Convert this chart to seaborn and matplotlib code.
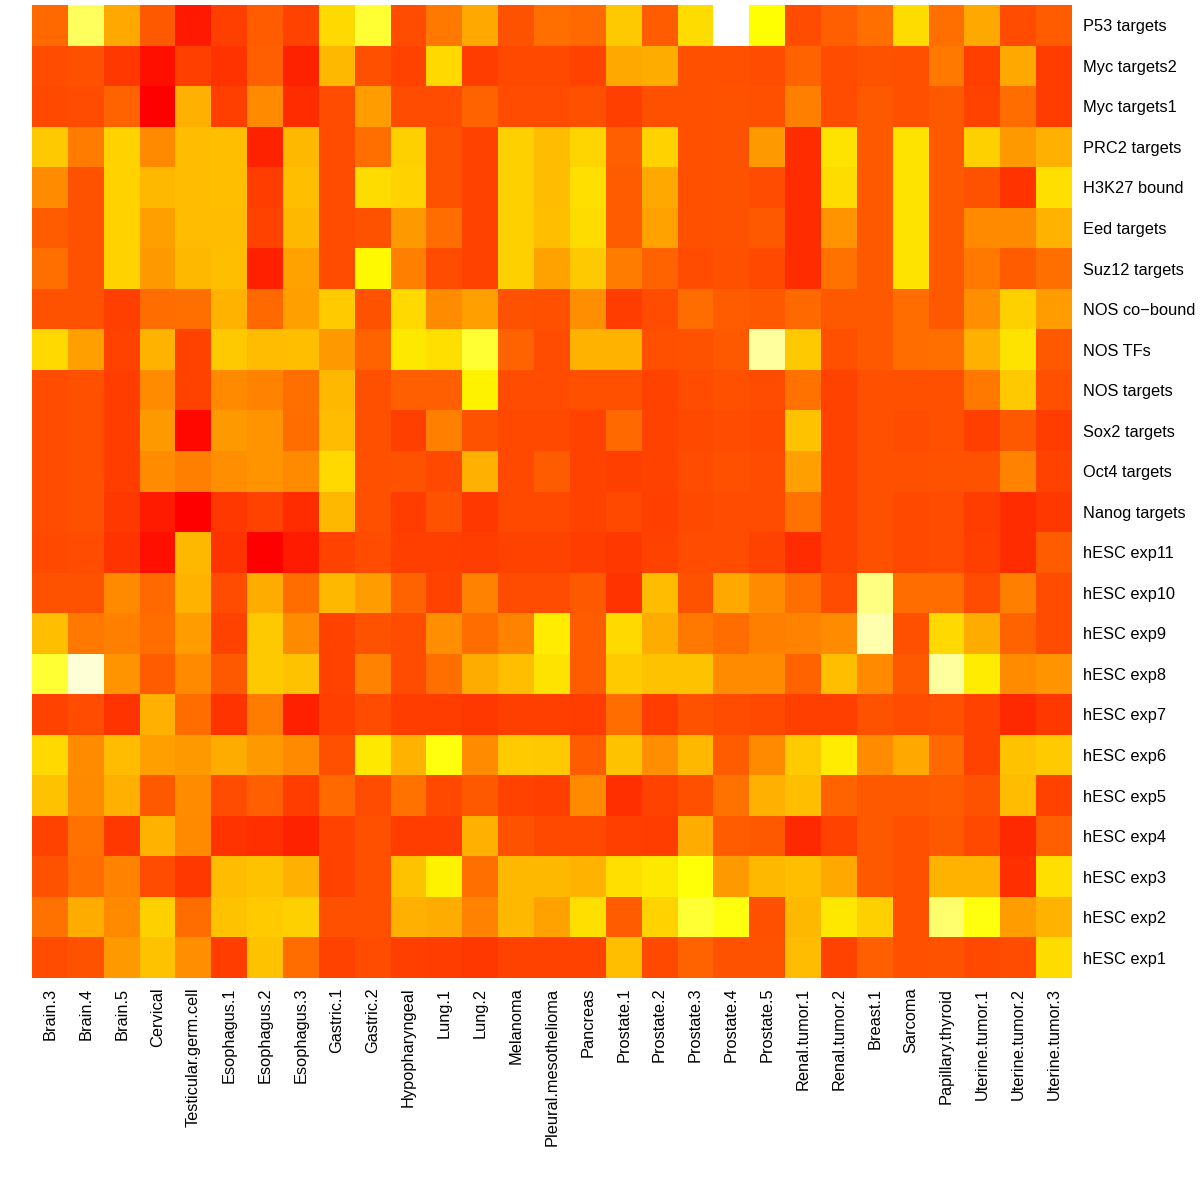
import numpy as np
import pandas as pd
import matplotlib
matplotlib.use("Agg")
import matplotlib.pyplot as plt
from matplotlib.colors import LinearSegmentedColormap
import seaborn as sns

NA = np.nan

samples = ["Brain.3", "Brain.4", "Brain.5", "Cervical", "Testicular.germ.cell",
           "Esophagus.1", "Esophagus.2", "Esophagus.3", "Gastric.1", "Gastric.2",
           "Hypopharyngeal", "Lung.1", "Lung.2", "Melanoma", "Pleural.mesothelioma",
           "Pancreas", "Prostate.1", "Prostate.2", "Prostate.3", "Prostate.4",
           "Prostate.5", "Renal.tumor.1", "Renal.tumor.2", "Breast.1", "Sarcoma",
           "Papillary.thyroid", "Uterine.tumor.1", "Uterine.tumor.2", "Uterine.tumor.3"]

gene_sets = ["P53 targets", "Myc targets2", "Myc targets1", "PRC2 targets",
             "H3K27 bound", "Eed targets", "Suz12 targets", "NOS co\u2212bound",
             "NOS TFs", "NOS targets", "Sox2 targets", "Oct4 targets",
             "Nanog targets", "hESC exp11", "hESC exp10", "hESC exp9", "hESC exp8",
             "hESC exp7", "hESC exp6", "hESC exp5", "hESC exp4", "hESC exp3",
             "hESC exp2", "hESC exp1"]

# enrichment scores, one list per gene set (same order as samples)
p53_targets = [3.3, 9.3, 5.3, 2.8, 0.8, 2.0, 2.9, 2.1, 6.8, 8.7, 2.4, 3.8, 5.3, 2.6, 3.5,
               3.3, 6.3, 2.9, 6.9, NA, 8.0, 2.4, 3.0, 3.5, 6.9, 3.5, 5.3, 2.4, 2.9]
myc_targets2 = [2.4, 2.5, 1.8, 0.5, 2.0, 1.6, 3.0, 1.1, 5.8, 2.5, 2.1, 6.8, 1.9, 2.3, 2.3,
                2.1, 5.3, 5.4, 2.5, 2.5, 2.4, 3.1, 2.4, 2.6, 2.5, 3.8, 2.0, 5.3, 1.9]
myc_targets1 = [2.3, 2.4, 3.1, 0.0, 5.5, 2.0, 4.3, 1.4, 2.4, 4.9, 2.4, 2.4, 3.1, 2.4, 2.4,
                2.5, 2.0, 2.5, 2.5, 2.6, 2.5, 4.0, 2.4, 2.8, 2.5, 2.8, 2.1, 3.4, 1.9]
prc2_targets = [6.3, 3.9, 6.6, 4.3, 5.9, 6.0, 1.1, 5.8, 2.4, 3.5, 6.5, 2.6, 2.1, 6.5, 5.9,
                6.7, 3.0, 6.6, 2.5, 2.6, 4.8, 1.4, 7.1, 2.8, 7.1, 2.8, 6.5, 4.8, 5.5]
h3k27_bound = [4.4, 2.6, 6.6, 5.8, 5.9, 6.0, 1.9, 6.0, 2.4, 6.9, 6.6, 2.6, 2.1, 6.5, 5.9,
               7.0, 2.9, 5.3, 2.5, 2.6, 2.4, 1.4, 6.9, 2.8, 7.1, 2.8, 2.6, 1.6, 7.0]
eed_targets = [2.9, 2.6, 6.6, 5.0, 5.9, 5.9, 2.1, 5.8, 2.4, 2.6, 4.8, 3.4, 2.1, 6.5, 6.0,
               6.9, 2.9, 5.1, 2.5, 2.6, 2.8, 1.4, 4.6, 2.8, 7.1, 2.8, 4.3, 4.3, 5.6]
suz12_targets = [3.5, 2.6, 6.6, 4.8, 5.8, 6.0, 1.0, 5.1, 2.4, 7.8, 4.0, 2.4, 2.1, 6.5, 5.1,
                 6.3, 3.9, 3.1, 2.4, 2.5, 2.3, 1.4, 3.6, 2.8, 7.1, 2.8, 3.8, 2.9, 3.5]
nos_cobound = [2.6, 2.6, 2.0, 3.4, 3.5, 5.6, 3.3, 5.0, 6.4, 2.6, 6.8, 4.4, 5.0, 2.6, 2.5,
               4.5, 1.9, 2.4, 3.4, 2.9, 2.8, 3.3, 2.8, 2.8, 3.4, 2.8, 4.5, 6.5, 4.9]
nos_tfs = [6.8, 5.0, 2.1, 5.6, 2.1, 6.3, 5.9, 6.0, 4.8, 3.1, 7.3, 7.0, 8.7, 3.1, 2.4,
           5.6, 5.6, 2.5, 2.6, 2.8, 10.2, 6.3, 2.5, 2.8, 3.4, 3.5, 5.5, 7.1, 2.8]
nos_targets = [2.4, 2.5, 1.9, 4.4, 2.1, 4.3, 4.1, 3.5, 5.8, 2.5, 3.0, 3.0, 7.6, 2.4, 2.4,
               2.5, 2.5, 2.1, 2.4, 2.5, 2.4, 3.6, 2.1, 2.5, 2.5, 2.5, 3.8, 6.3, 2.5]
sox2_targets = [2.4, 2.5, 1.9, 4.8, 0.3, 4.8, 4.6, 3.4, 5.9, 2.5, 2.0, 4.0, 2.6, 2.3, 2.3,
                2.1, 3.3, 2.1, 2.3, 2.4, 2.3, 6.1, 2.1, 2.5, 2.4, 2.5, 2.0, 2.8, 1.9]
oct4_targets = [2.4, 2.5, 1.9, 4.4, 4.0, 4.5, 4.6, 4.3, 6.8, 2.5, 2.6, 2.3, 5.5, 2.3, 2.9,
                2.1, 2.0, 2.1, 2.4, 2.5, 2.4, 5.0, 2.1, 2.5, 2.5, 2.6, 2.6, 4.1, 2.1]
nanog_targets = [2.4, 2.5, 1.8, 0.9, 0.0, 1.8, 2.1, 1.4, 5.8, 2.5, 1.9, 2.6, 1.8, 2.3, 2.3,
                 2.1, 2.3, 2.0, 2.3, 2.4, 2.4, 3.6, 2.1, 2.5, 2.3, 2.4, 1.9, 1.4, 1.8]
hesc_exp11 = [2.3, 2.4, 1.6, 0.5, 5.8, 1.6, 0.0, 0.9, 2.1, 2.4, 2.0, 2.0, 1.9, 2.1, 2.1,
              1.9, 1.8, 2.1, 2.4, 2.4, 2.1, 1.4, 2.1, 2.5, 2.3, 2.4, 2.0, 1.4, 2.9]
hesc_exp10 = [2.6, 2.6, 4.3, 3.3, 5.6, 2.4, 5.4, 3.4, 5.8, 4.9, 3.1, 2.1, 4.1, 2.4, 2.4,
              2.8, 1.6, 5.9, 2.6, 5.3, 4.4, 3.5, 2.4, 9.8, 3.4, 3.4, 2.4, 4.0, 2.4]
hesc_exp9 = [6.0, 3.8, 4.0, 3.4, 4.9, 2.1, 6.3, 4.4, 2.1, 2.6, 2.4, 4.5, 3.4, 4.1, 7.4,
             2.9, 6.8, 5.4, 3.8, 3.4, 4.0, 4.1, 4.4, 10.4, 2.5, 6.8, 5.4, 3.1, 2.4]
hesc_exp8 = [8.7, 11.0, 4.6, 2.9, 4.3, 2.8, 6.3, 6.1, 2.1, 4.1, 2.4, 3.5, 5.4, 6.0, 7.1,
             2.9, 6.4, 6.1, 6.1, 4.4, 4.4, 3.1, 6.0, 4.3, 2.8, 10.2, 7.4, 4.4, 4.6]
hesc_exp7 = [2.1, 2.4, 1.6, 5.5, 3.4, 1.6, 3.9, 1.0, 2.0, 2.4, 1.9, 1.9, 1.8, 2.0, 2.0,
             1.9, 3.4, 1.9, 2.6, 2.4, 2.3, 2.0, 2.0, 2.6, 2.4, 2.5, 2.1, 1.3, 1.8]
hesc_exp6 = [6.8, 4.4, 5.9, 5.0, 4.8, 5.4, 4.8, 4.3, 2.5, 7.3, 5.6, 8.2, 4.4, 6.4, 6.3,
             2.9, 6.1, 4.5, 5.8, 2.9, 4.3, 6.4, 7.4, 4.4, 5.3, 3.3, 2.1, 6.1, 6.4]
hesc_exp5 = [6.1, 4.3, 5.5, 2.8, 4.4, 2.4, 3.0, 1.9, 3.3, 2.4, 3.6, 2.3, 2.8, 2.1, 2.0,
             4.3, 1.5, 2.1, 2.5, 3.6, 5.5, 6.0, 3.1, 2.8, 2.8, 2.9, 2.6, 5.9, 2.1]
hesc_exp4 = [2.1, 3.6, 1.8, 5.6, 4.3, 1.6, 1.5, 1.1, 2.1, 2.5, 1.9, 1.9, 5.5, 2.6, 2.3,
             2.3, 2.0, 1.9, 5.4, 2.9, 2.8, 1.3, 2.1, 2.8, 2.5, 2.8, 2.3, 1.3, 3.0]
hesc_exp3 = [2.6, 3.4, 4.1, 2.4, 1.8, 5.9, 6.1, 5.5, 2.1, 2.5, 6.1, 7.6, 3.5, 5.8, 5.8,
             5.6, 7.0, 7.3, 8.1, 4.8, 5.8, 6.0, 5.3, 2.8, 2.5, 5.6, 5.6, 1.5, 7.0]
hesc_exp2 = [3.6, 5.4, 4.3, 6.5, 3.4, 6.1, 6.4, 6.5, 2.5, 2.5, 5.5, 5.4, 4.1, 5.8, 5.1,
             7.0, 2.9, 6.6, 8.7, 8.2, 2.5, 5.8, 7.3, 6.5, 2.5, 9.5, 8.2, 4.9, 5.6]
hesc_exp1 = [2.4, 2.6, 4.8, 6.1, 4.5, 1.9, 6.1, 3.4, 2.1, 2.4, 2.0, 1.9, 1.8, 2.1, 2.1,
             2.1, 6.0, 2.3, 3.1, 2.6, 2.6, 5.9, 2.1, 3.0, 2.5, 2.6, 2.3, 2.4, 6.9]

rows = [p53_targets, myc_targets2, myc_targets1, prc2_targets, h3k27_bound,
        eed_targets, suz12_targets, nos_cobound, nos_tfs, nos_targets,
        sox2_targets, oct4_targets, nanog_targets, hesc_exp11, hesc_exp10,
        hesc_exp9, hesc_exp8, hesc_exp7, hesc_exp6, hesc_exp5, hesc_exp4,
        hesc_exp3, hesc_exp2, hesc_exp1]

df = pd.DataFrame(rows, index=gene_sets, columns=samples)

# like R heat.colors: red -> yellow -> pale yellow
heat = LinearSegmentedColormap.from_list(
    "heat", [(0.0, "#FF0000"), (8 / 11, "#FFFF00"), (1.0, "#FFFFD5")])

sns.set_style("white")
plt.rcParams['font.family'] = ['Liberation Sans', 'DejaVu Sans']

fig = plt.figure(figsize=(12, 11.77), dpi=100)
ax = fig.add_axes([32 / 1200, 1 - 978 / 1177, 1040 / 1200, 973 / 1177])

sns.heatmap(df, ax=ax, cmap=heat, vmin=0, vmax=11, cbar=False,
            xticklabels=True, yticklabels=True)

ax.set_facecolor("white")
ax.yaxis.tick_right()
ax.tick_params(axis="both", length=0, labelsize=11.8, labelcolor="black")
ax.tick_params(axis="y", pad=8)
ax.tick_params(axis="x", pad=7)
plt.setp(ax.get_yticklabels(), rotation=0, ha="left")
plt.setp(ax.get_xticklabels(), rotation=90, ha="center", va="top")
ax.set_xlabel("")
ax.set_ylabel("")

fig.savefig("out.png", dpi=100, facecolor="white")
